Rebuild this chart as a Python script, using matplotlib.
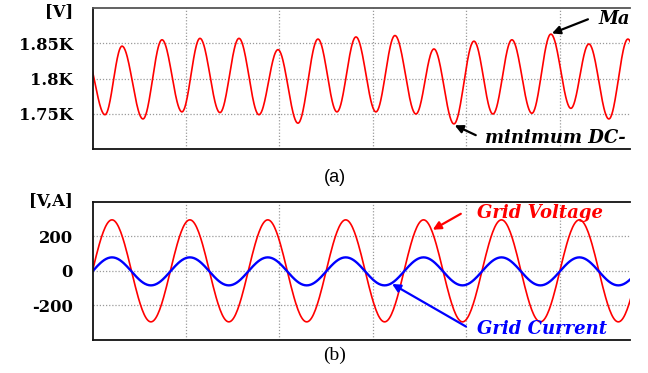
import numpy as np
import matplotlib
matplotlib.use("Agg")
import matplotlib.pyplot as plt

# ---------------- data ----------------
# (a) DC-link voltage [kV]: times (ms) of successive extrema and their values
dc_t = [-1.5, 2.67, 6.31, 10.80, 14.87, 19.14, 22.99, 27.27, 31.34, 35.61, 39.68,
        43.96, 48.24, 52.30, 56.37, 60.64, 64.71, 69.20, 73.05, 77.33, 81.61,
        85.67, 89.73, 94.01, 98.07, 102.35, 106.20, 110.48, 114.55, 118.7]
dc_v = [1.835, 1.749, 1.846, 1.743, 1.855, 1.753, 1.857, 1.752, 1.857, 1.749, 1.841,
        1.737, 1.856, 1.753, 1.859, 1.753, 1.861, 1.750, 1.842, 1.736, 1.853,
        1.750, 1.855, 1.751, 1.863, 1.758, 1.849, 1.743, 1.856, 1.750]

# (b) grid voltage and current: times (ms) of extrema and values
grid_t = [-4.17, 4.17, 12.50, 20.83, 29.17, 37.50, 45.83, 54.17, 62.50, 70.83,
          79.17, 87.50, 95.83, 104.17, 112.50, 120.83]
volt_v = [-295, 295, -295, 295, -295, 295, -295, 295, -295, 295,
          -295, 295, -295, 295, -295, 295]
curr_v = [-84, 78, -84, 78, -84, 78, -84, 78, -84, 78,
          -84, 78, -84, 78, -84, 78]

a_ticks = [1.75, 1.80, 1.85]
a_ticklabels = ["1.75K", "1.8K", "1.85K"]
b_ticks = [-200, 0, 200]
b_ticklabels = ["-200", "0", "200"]
x_grid = [20, 40, 60, 80, 100]


def wave(t_ext, v_ext, n=40):
    """Draw smooth half-cosine strokes between successive read extrema."""
    ts, vs = [], []
    for i in range(len(t_ext) - 1):
        s = np.linspace(0, 1, n, endpoint=False)
        ts.append(t_ext[i] + (t_ext[i + 1] - t_ext[i]) * s)
        vs.append(v_ext[i] + (v_ext[i + 1] - v_ext[i]) * (1 - np.cos(np.pi * s)) / 2)
    ts.append([t_ext[-1]]); vs.append([v_ext[-1]])
    return np.concatenate(ts), np.concatenate(vs)


W, H = 648, 373
fig = plt.figure(figsize=(W / 100, H / 100), dpi=100)

tick_font = dict(family="DejaVu Serif", weight="bold", size=11.8)
ann_font = dict(family="DejaVu Serif", weight="bold", style="italic", size=13)

ax1 = fig.add_axes([92.5 / W, 1 - 149.3 / H, (630 - 92.5) / W, (149.3 - 8) / H])
ax2 = fig.add_axes([92.5 / W, 1 - 340 / H, (630 - 92.5) / W, (340 - 201.7) / H])

for ax in (ax1, ax2):
    ax.set_xlim(0, 115)
    ax.set_xticks(x_grid)
    ax.set_xticklabels([])
    ax.tick_params(length=0, pad=14)
    ax.grid(True, color="#9a9a9a", linestyle=(0, (1, 1.5)), linewidth=0.9)
    ax.spines["right"].set_visible(False)
    for s in ("left", "top", "bottom"):
        ax.spines[s].set_linewidth(1.3)
        ax.spines[s].set_color("#111111")
    ax.set_axisbelow(True)
ax1.spines["top"].set_color("#555555")

# (a)
t, v = wave(dc_t, dc_v)
ax1.plot(t, v, color="#ff0000", lw=1.2)
ax1.set_ylim(1.70, 1.90)
ax1.set_yticks(a_ticks)
ax1.set_yticklabels(a_ticklabels, fontdict=tick_font)

# (b)
t, v = wave(grid_t, volt_v)
ax2.plot(t, v, color="#ff0000", lw=1.2)
t, c = wave(grid_t, curr_v)
ax2.plot(t, c, color="#0000ff", lw=1.7)
ax2.set_ylim(-400, 400)
ax2.set_yticks(b_ticks)
ax2.set_yticklabels(b_ticklabels, fontdict=tick_font)

# unit labels
fig.text(73 / W, 1 - 12 / H, "[V]", ha="right", va="center", **tick_font)
fig.text(73 / W, 1 - 201 / H, "[V,A]", ha="right", va="center", **tick_font)

# panel captions
fig.text(335 / W, 1 - 177 / H, "(a)", ha="center", va="center",
         family="Liberation Sans", size=13)
fig.text(335 / W, 1 - 355 / H, "(b)", ha="center", va="center",
         family="Liberation Serif", size=14)

# annotations (text as visible in the reference, which is cut at its right edge)
ax1.text(108.3, 1.884, "Ma", ha="left", va="center", color="black",
         clip_on=False, **ann_font)
ax1.text(84.0, 1.7157, "minimum DC-", ha="left", va="center", color="black",
         clip_on=False, **ann_font)
ax2.text(82.2, 335, "Grid Voltage", ha="left", va="center", color="#ff0000",
         clip_on=False, **ann_font)
ax2.text(82.2, -339, "Grid Current", ha="left", va="center", color="#0000ff",
         clip_on=False, **ann_font)

arrow = lambda col: dict(arrowstyle="-|>", color=col, lw=1.6, mutation_scale=12,
                         shrinkA=0, shrinkB=0)
ax1.annotate("", xy=(98.3, 1.864), xytext=(106.0, 1.884), arrowprops=arrow("black"),
             annotation_clip=False)
ax1.annotate("", xy=(77.5, 1.734), xytext=(82.0, 1.72), arrowprops=arrow("black"),
             annotation_clip=False)
ax2.annotate("", xy=(72.8, 238), xytext=(78.8, 330), arrowprops=arrow("#ff0000"),
             annotation_clip=False)
ax2.annotate("", xy=(64.1, -76), xytext=(79.9, -322), arrowprops=arrow("#0000ff"),
             annotation_clip=False)

fig.savefig("out.png", dpi=100)
